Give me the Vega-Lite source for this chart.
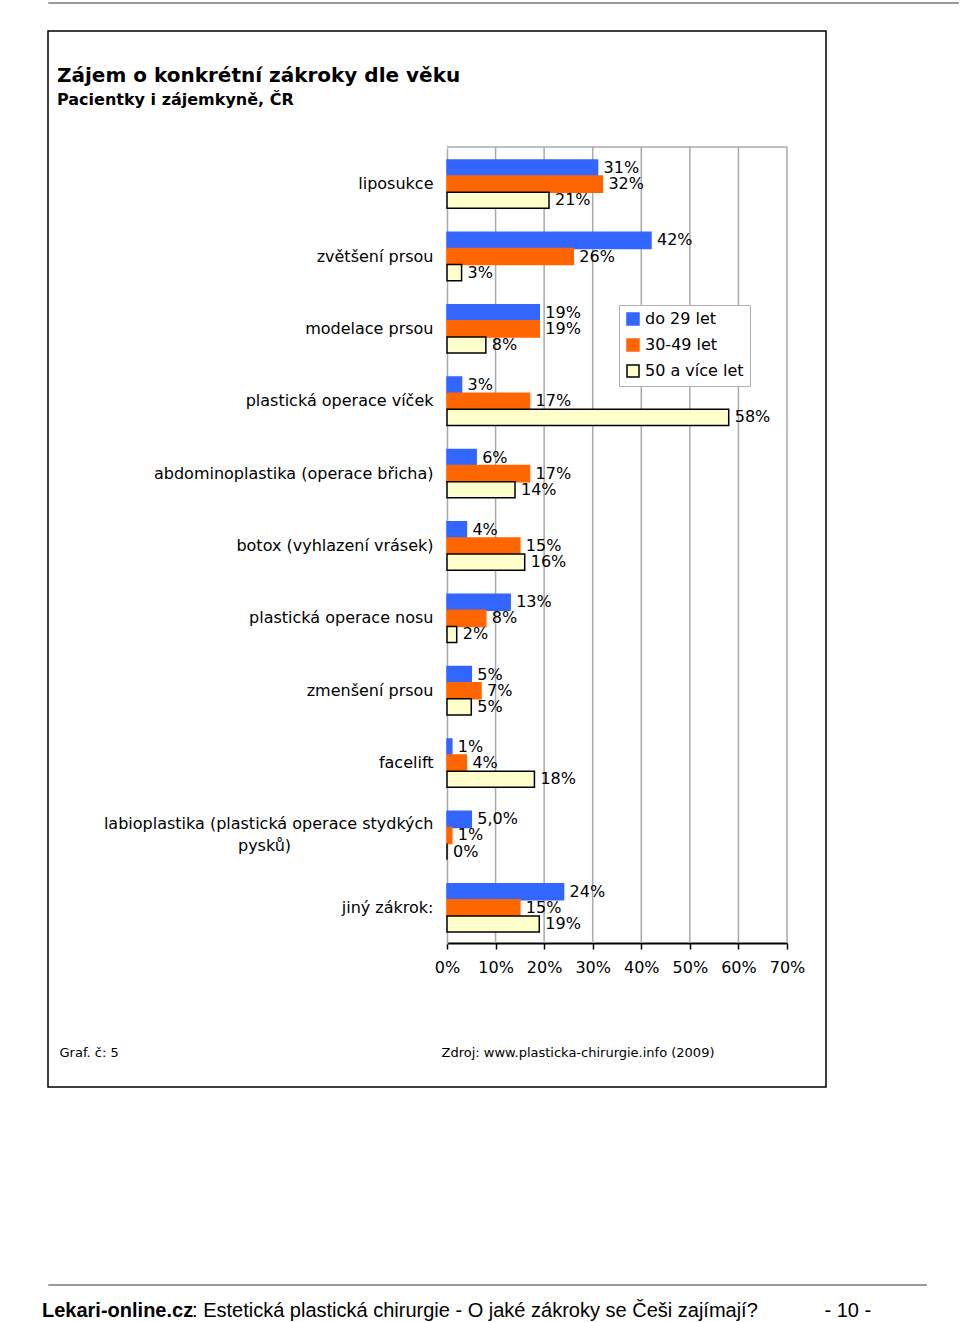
{
  "$schema": "https://vega.github.io/schema/vega-lite/v6.json",
  "background": "white",
  "padding": {"left": 42, "top": 1, "right": 5, "bottom": 2},
  "title": {
    "text": "Lekari-online.cz",
    "subtitle": "\u200b\u00a0\u00a0\u00a0\u00a0\u00a0\u00a0\u00a0\u00a0\u00a0\u00a0\u00a0\u00a0\u00a0\u00a0\u00a0\u00a0\u00a0\u00a0\u00a0\u00a0\u00a0\u00a0\u00a0\u00a0\u00a0\u00a0\u00a0: Estetická plastická chirurgie - O jaké zákroky se Češi zajímají?\u00a0\u00a0\u00a0\u00a0\u00a0\u00a0\u00a0\u00a0\u00a0\u00a0\u00a0\u00a0- 10 -",
    "orient": "bottom",
    "anchor": "start",
    "frame": "group",
    "offset": 15,
    "dx": -6,
    "font": "Liberation Sans",
    "fontSize": 20,
    "fontWeight": "bold",
    "color": "black",
    "subtitleFont": "Liberation Sans",
    "subtitleFontSize": 20,
    "subtitleFontWeight": "normal",
    "subtitleColor": "black",
    "subtitlePadding": -20
  },
  "config": {
    "view": {"stroke": "black", "strokeWidth": 1.5},
    "font": "DejaVu Sans",
    "axisX": {
      "offset": -144,
      "grid": false,
      "domainColor": "black",
      "domainWidth": 2,
      "tickColor": "black",
      "tickWidth": 1.5,
      "tickSize": 6,
      "labelFont": "DejaVu Sans",
      "labelFontSize": 16,
      "labelColor": "black",
      "labelPadding": 10,
      "labelFlush": false,
      "labelOverlap": false,
      "titleX": 11,
      "titleY": 109,
      "titleAlign": "left",
      "titleBaseline": "middle",
      "titleFont": "DejaVu Sans",
      "titleFontSize": 13,
      "titleFontWeight": "normal",
      "titleColor": "black"
    }
  },
  "spacing": 195,
  "vconcat": [
    {
      "spacing": 26,
      "vconcat": [
        {
          "width": 910,
          "height": 1,
          "view": {"stroke": "#9a9a9a", "strokeWidth": 1},
          "data": {"values": [{}]},
          "mark": {"type": "text", "opacity": 0, "fontSize": 0},
          "encoding": {"text": {"value": ""}}
        },
        {
          "width": 778,
          "height": 1056,
          "title": {
            "text": "Zájem o konkrétní zákroky dle věku",
            "subtitle": "Pacientky i zájemkyně, ČR",
            "orient": "top",
            "anchor": "start",
            "frame": "group",
            "offset": -77,
            "dx": 9,
            "font": "DejaVu Sans",
            "fontSize": 20,
            "fontWeight": "bold",
            "color": "black",
            "subtitleFont": "DejaVu Sans",
            "subtitleFontSize": 16,
            "subtitleFontWeight": "bold",
            "subtitleColor": "black",
            "subtitlePadding": 6
          },
          "resolve": {"scale": {"y": "independent"}},
          "layer": [
            {
              "layer": [
                {
                  "data": {"values": [{"g": 10}, {"g": 20}, {"g": 30}, {"g": 40}, {"g": 50}, {"g": 60}, {"g": 70}]},
                  "mark": {"type": "rule", "color": "#a9a9a9", "strokeWidth": 1.5},
                  "encoding": {
                    "x": {"field": "g", "type": "quantitative", "axis": {"title": "Graf. č: 5"}},
                    "y": {"datum": 0, "type": "quantitative", "scale": {"domain": [0, 1], "range": [912, 116]}, "axis": null},
                    "y2": {"datum": 1}
                  }
                },
                {
                  "data": {"values": [{"a": 0, "b": 70}]},
                  "mark": {"type": "rule", "color": "#a9a9a9", "strokeWidth": 1.5},
                  "encoding": {
                    "x": {"field": "a", "type": "quantitative", "axis": {"title": "Graf. č: 5"}},
                    "x2": {"field": "b"},
                    "y": {"datum": 1, "type": "quantitative", "axis": null}
                  }
                }
              ]
            },
            {
              "data": {
                "values": [
                  {"cat": "liposukce", "series": "do 29 let", "value": 31, "label": "31%"},
                  {"cat": "liposukce", "series": "30-49 let", "value": 32, "label": "32%"},
                  {"cat": "liposukce", "series": "50 a více let", "value": 21, "label": "21%"},
                  {"cat": "zvětšení prsou", "series": "do 29 let", "value": 42, "label": "42%"},
                  {"cat": "zvětšení prsou", "series": "30-49 let", "value": 26, "label": "26%"},
                  {"cat": "zvětšení prsou", "series": "50 a více let", "value": 3, "label": "3%"},
                  {"cat": "modelace prsou", "series": "do 29 let", "value": 19, "label": "19%"},
                  {"cat": "modelace prsou", "series": "30-49 let", "value": 19, "label": "19%"},
                  {"cat": "modelace prsou", "series": "50 a více let", "value": 8, "label": "8%"},
                  {"cat": "plastická operace víček", "series": "do 29 let", "value": 3, "label": "3%"},
                  {"cat": "plastická operace víček", "series": "30-49 let", "value": 17, "label": "17%"},
                  {"cat": "plastická operace víček", "series": "50 a více let", "value": 58, "label": "58%"},
                  {"cat": "abdominoplastika (operace břicha)", "series": "do 29 let", "value": 6, "label": "6%"},
                  {"cat": "abdominoplastika (operace břicha)", "series": "30-49 let", "value": 17, "label": "17%"},
                  {"cat": "abdominoplastika (operace břicha)", "series": "50 a více let", "value": 14, "label": "14%"},
                  {"cat": "botox (vyhlazení vrásek)", "series": "do 29 let", "value": 4, "label": "4%"},
                  {"cat": "botox (vyhlazení vrásek)", "series": "30-49 let", "value": 15, "label": "15%"},
                  {"cat": "botox (vyhlazení vrásek)", "series": "50 a více let", "value": 16, "label": "16%"},
                  {"cat": "plastická operace nosu", "series": "do 29 let", "value": 13, "label": "13%"},
                  {"cat": "plastická operace nosu", "series": "30-49 let", "value": 8, "label": "8%"},
                  {"cat": "plastická operace nosu", "series": "50 a více let", "value": 2, "label": "2%"},
                  {"cat": "zmenšení prsou", "series": "do 29 let", "value": 5, "label": "5%"},
                  {"cat": "zmenšení prsou", "series": "30-49 let", "value": 7, "label": "7%"},
                  {"cat": "zmenšení prsou", "series": "50 a více let", "value": 5, "label": "5%"},
                  {"cat": "facelift", "series": "do 29 let", "value": 1, "label": "1%"},
                  {"cat": "facelift", "series": "30-49 let", "value": 4, "label": "4%"},
                  {"cat": "facelift", "series": "50 a více let", "value": 18, "label": "18%"},
                  {"cat": "labioplastika (plastická operace stydkých pysků)", "series": "do 29 let", "value": 5, "label": "5,0%"},
                  {"cat": "labioplastika (plastická operace stydkých pysků)", "series": "30-49 let", "value": 1, "label": "1%"},
                  {"cat": "labioplastika (plastická operace stydkých pysků)", "series": "50 a více let", "value": 0, "label": "0%"},
                  {"cat": "jiný zákrok:", "series": "do 29 let", "value": 24, "label": "24%"},
                  {"cat": "jiný zákrok:", "series": "30-49 let", "value": 15, "label": "15%"},
                  {"cat": "jiný zákrok:", "series": "50 a více let", "value": 19, "label": "19%"}
                ]
              },
              "encoding": {
                "y": {
                  "field": "cat",
                  "type": "nominal",
                  "sort": ["liposukce", "zvětšení prsou", "modelace prsou", "plastická operace víček", "abdominoplastika (operace břicha)", "botox (vyhlazení vrásek)", "plastická operace nosu", "zmenšení prsou", "facelift", "labioplastika (plastická operace stydkých pysků)", "jiný zákrok:"],
                  "scale": {"range": [117, 913], "paddingInner": 0.3315, "paddingOuter": 0.1658},
                  "axis": {
                    "orient": "left",
                    "offset": -399,
                    "title": "Zdroj: www.plasticka-chirurgie.info (2009)",
                    "titleX": -6,
                    "titleY": 1021,
                    "titleAngle": 0,
                    "titleAlign": "left",
                    "titleBaseline": "middle",
                    "titleFont": "DejaVu Sans",
                    "titleFontSize": 13,
                    "titleFontWeight": "normal",
                    "titleColor": "black",
                    "labelFont": "DejaVu Sans",
                    "labelFontSize": 16,
                    "labelColor": "black",
                    "labelPadding": 14,
                    "labelLimit": 0,
                    "labelLineHeight": 22,
                    "labelOffset": {"condition": {"test": "datum.value == 'labioplastika (plastická operace stydkých pysků)'", "value": -11}, "value": 0},
                    "ticks": false,
                    "domainColor": "#a9a9a9",
                    "domainWidth": 1.5,
                    "labelExpr": "datum.value == 'labioplastika (plastická operace stydkých pysků)' ? ['labioplastika (plastická operace stydkých', 'pysků)\u00a0\u00a0\u00a0\u00a0\u00a0\u00a0\u00a0\u00a0\u00a0\u00a0\u00a0\u00a0\u00a0\u00a0\u00a0\u00a0\u00a0\u00a0\u00a0\u00a0\u00a0\u00a0\u00a0\u00a0\u00a0\u00a0\u00a0\u00a0\u200b'] : datum.label"
                  }
                },
                "x": {
                  "field": "value",
                  "type": "quantitative",
                  "scale": {"domain": [0, 70], "range": [399, 739], "nice": false, "zero": true},
                  "axis": {"title": "Graf. č: 5", "values": [0, 10, 20, 30, 40, 50, 60, 70], "labelExpr": "datum.value + '%'"}
                },
                "yOffset": {"field": "series", "sort": ["do 29 let", "30-49 let", "50 a více let"], "scale": {"paddingInner": 0, "paddingOuter": 0}}
              },
              "layer": [
                {
                  "mark": {"type": "bar", "strokeWidth": 1.5},
                  "encoding": {
                    "color": {
                      "field": "series",
                      "type": "nominal",
                      "scale": {"domain": ["do 29 let", "30-49 let", "50 a více let"], "range": ["#3366FF", "#FF6600", "#FFFFCC"]},
                      "legend": {
                        "title": null,
                        "orient": "none",
                        "legendX": 571,
                        "legendY": 303,
                        "padding": 6,
                        "strokeColor": "#b0b0b0",
                        "fillColor": "white",
                        "symbolType": "square",
                        "symbolSize": 144,
                        "symbolStrokeWidth": 1.5,
                        "labelFont": "DejaVu Sans",
                        "labelFontSize": 16,
                        "labelColor": "black",
                        "labelOffset": 4,
                        "rowPadding": 8
                      }
                    },
                    "stroke": {
                      "field": "series",
                      "type": "nominal",
                      "scale": {"domain": ["do 29 let", "30-49 let", "50 a více let"], "range": ["#3366FF", "#FF6600", "#000000"]},
                      "legend": {"title": null}
                    }
                  }
                },
                {
                  "mark": {"type": "text", "align": "left", "baseline": "middle", "dx": 6, "font": "DejaVu Sans", "fontSize": 16, "color": "black"},
                  "encoding": {"text": {"field": "label"}}
                }
              ]
            }
          ]
        }
      ]
    },
    {
      "width": 878,
      "height": 1,
      "view": {"stroke": "#9a9a9a", "strokeWidth": 1},
      "data": {"values": [{}]},
      "mark": {"type": "text", "opacity": 0, "fontSize": 0},
      "encoding": {"text": {"value": ""}}
    }
  ]
}
